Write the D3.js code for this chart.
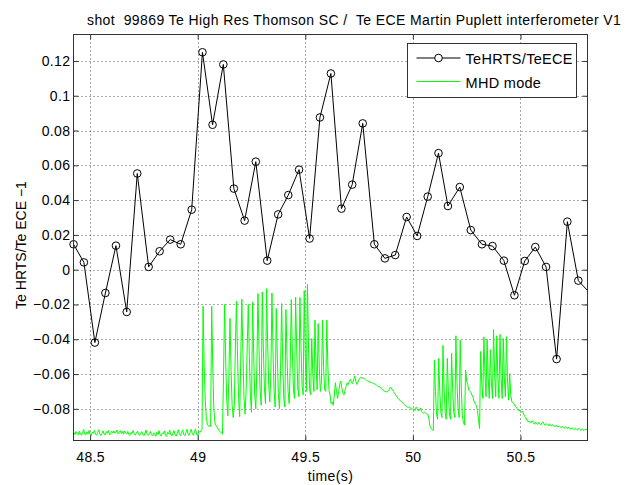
<!DOCTYPE html>
<html>
<head lang="en">
    <meta charset="UTF-8">
    <title>shot 99869</title>
    <script src="https://cdn.jsdelivr.net/npm/d3@7/dist/d3.min.js" charset="UTF-8"></script>
    <style>
        body{margin:0;background:#fff;}
        svg text{font-family:"Liberation Sans",Arial,Helvetica,sans-serif;}
    </style>
</head>
<body>
<script>
    // TeHRTS/TeECE - 1, one point per Thomson time slice
    var hrtsTime=[48.423,48.471,48.522,48.571,48.620,48.670,48.719,48.772,48.823,48.872,
                  48.921,48.972,49.022,49.069,49.119,49.168,49.218,49.270,49.323,49.374,
                  49.421,49.471,49.520,49.568,49.619,49.668,49.718,49.767,49.821,49.870,
                  49.918,49.971,50.020,50.069,50.119,50.163,50.218,50.269,50.321,50.370,
                  50.423,50.472,50.520,50.569,50.619,50.668,50.718,50.769,50.819];
    var hrtsRatio=[0.0146,0.0042,-0.0419,-0.0134,0.0138,-0.0243,0.0553,0.0016,0.0106,0.0173,
                   0.0146,0.0345,0.1250,0.0833,0.1180,0.0466,0.0282,0.0621,0.0052,0.0318,
                   0.0429,0.0575,0.0179,0.0875,0.1128,0.0351,0.0489,0.0841,0.0146,0.0065,
                   0.0084,0.0303,0.0194,0.0420,0.0670,0.0366,0.0475,0.0228,0.0146,0.0136,
                   0.0052,-0.0147,0.0050,0.0130,0.0016,-0.0514,0.0276,-0.0063,-0.0130];

    // MHD mode signal, sampled every 5 ms from 48.42 s
    var mhdStart=48.42;
    var mhdStep=0.005;
    var mhdSignal=[
        -0.0940,-0.0935,-0.0948,-0.0930,-0.0945,-0.0950,-0.0928,-0.0946,-0.0952,-0.0938,
        -0.0918,-0.0945,-0.0950,-0.0932,-0.0944,-0.0925,-0.0948,-0.0955,-0.0935,-0.0942,
        -0.0922,-0.0947,-0.0951,-0.0936,-0.0920,-0.0944,-0.0953,-0.0940,-0.0926,-0.0946,
        -0.0950,-0.0930,-0.0941,-0.0924,-0.0948,-0.0945,-0.0928,-0.0938,-0.0926,-0.0940,
        -0.0935,-0.0922,-0.0944,-0.0937,-0.0925,-0.0942,-0.0930,-0.0946,-0.0928,-0.0938,
        -0.0945,-0.0930,-0.0948,-0.0952,-0.0936,-0.0940,-0.0924,-0.0947,-0.0950,-0.0938,
        -0.0928,-0.0946,-0.0953,-0.0942,-0.0931,-0.0948,-0.0955,-0.0940,-0.0922,-0.0947,
        -0.0952,-0.0944,-0.0930,-0.0949,-0.0956,-0.0938,-0.0946,-0.0958,-0.0935,-0.0948,
        -0.0925,-0.0950,-0.0956,-0.0940,-0.0944,-0.0927,-0.0952,-0.0958,-0.0936,-0.0945,
        -0.0922,-0.0948,-0.0955,-0.0941,-0.0925,-0.0950,-0.0957,-0.0939,-0.0920,-0.0946,
        -0.0954,-0.0938,-0.0921,-0.0947,-0.0955,-0.0936,-0.0918,-0.0945,-0.0953,-0.0934,
        -0.0917,-0.0944,-0.0952,-0.0930,-0.0915,-0.0946,-0.0953,-0.0928,-0.0935,-0.0925,
        -0.0920,-0.0210,-0.0550,-0.0750,-0.0850,-0.0890,-0.0900,-0.0895,-0.0902,-0.0210,
        -0.0560,-0.0800,-0.0880,-0.0895,-0.0905,-0.0915,-0.0925,-0.0932,-0.0940,-0.0945,
        -0.0600,-0.0200,-0.0520,-0.0750,-0.0840,-0.0600,-0.0280,-0.0580,-0.0780,-0.0850,
        -0.0780,-0.0450,-0.0180,-0.0500,-0.0740,-0.0845,-0.0520,-0.0170,-0.0480,-0.0730,
        -0.0830,-0.0700,-0.0450,-0.0200,-0.0500,-0.0730,-0.0820,-0.0185,-0.0480,-0.0720,
        -0.0800,-0.0550,-0.0137,-0.0460,-0.0700,-0.0780,-0.0128,-0.0450,-0.0680,-0.0770,
        -0.0109,-0.0420,-0.0660,-0.0760,-0.0600,-0.0134,-0.0480,-0.0700,-0.0790,-0.0223,
        -0.0500,-0.0720,-0.0800,-0.0580,-0.0195,-0.0520,-0.0740,-0.0790,-0.0229,-0.0500,
        -0.0700,-0.0770,-0.0550,-0.0172,-0.0480,-0.0690,-0.0740,-0.0157,-0.0450,-0.0680,
        -0.0730,-0.0160,-0.0440,-0.0670,-0.0720,-0.0120,-0.0500,-0.0700,-0.0084,-0.0450,
        -0.0690,-0.0720,-0.0396,-0.0600,-0.0700,-0.0290,-0.0550,-0.0690,-0.0310,-0.0560,
        -0.0700,-0.0650,-0.0290,-0.0560,-0.0690,-0.0700,-0.0290,-0.0560,-0.0690,-0.0720,
        -0.0770,-0.0760,-0.0780,-0.0720,-0.0650,-0.0700,-0.0740,-0.0700,-0.0660,-0.0640,
        -0.0680,-0.0710,-0.0720,-0.0690,-0.0670,-0.0650,-0.0660,-0.0640,-0.0630,-0.0650,
        -0.0655,-0.0630,-0.0610,-0.0640,-0.0660,-0.0645,-0.0630,-0.0622,-0.0618,-0.0625,
        -0.0620,-0.0628,-0.0632,-0.0638,-0.0640,-0.0645,-0.0642,-0.0650,-0.0648,-0.0655,
        -0.0655,-0.0660,-0.0663,-0.0668,-0.0672,-0.0670,-0.0680,-0.0685,-0.0690,-0.0695,
        -0.0700,-0.0702,-0.0703,-0.0698,-0.0690,-0.0676,-0.0680,-0.0692,-0.0700,-0.0712,
        -0.0720,-0.0730,-0.0738,-0.0745,-0.0750,-0.0757,-0.0760,-0.0768,-0.0775,-0.0780,
        -0.0785,-0.0790,-0.0792,-0.0788,-0.0798,-0.0802,-0.0800,-0.0805,-0.0810,-0.0790,
        -0.0800,-0.0812,-0.0804,-0.0795,-0.0815,-0.0822,-0.0824,-0.0818,-0.0826,-0.0830,
        -0.0832,-0.0860,-0.0904,-0.0915,-0.0920,-0.0925,-0.0520,-0.0700,-0.0830,-0.0860,
        -0.0510,-0.0700,-0.0820,-0.0850,-0.0435,-0.0680,-0.0820,-0.0860,-0.0510,-0.0700,
        -0.0830,-0.0860,-0.0480,-0.0690,-0.0820,-0.0850,-0.0380,-0.0650,-0.0800,-0.0850,
        -0.0405,-0.0680,-0.0840,-0.0880,-0.0894,-0.0578,-0.0640,-0.0660,-0.0693,-0.0700,
        -0.0705,-0.0721,-0.0735,-0.0760,-0.0770,-0.0780,-0.0810,-0.0860,-0.0913,-0.0470,
        -0.0650,-0.0740,-0.0386,-0.0600,-0.0730,-0.0400,-0.0620,-0.0740,-0.0460,-0.0650,
        -0.0740,-0.0344,-0.0600,-0.0730,-0.0380,-0.0620,-0.0740,-0.0372,-0.0620,-0.0740,
        -0.0395,-0.0620,-0.0730,-0.0385,-0.0640,-0.0750,-0.0597,-0.0720,-0.0760,-0.0765,
        -0.0770,-0.0785,-0.0790,-0.0800,-0.0810,-0.0805,-0.0820,-0.0818,-0.0815,-0.0830,
        -0.0845,-0.0850,-0.0865,-0.0875,-0.0870,-0.0880,-0.0875,-0.0868,-0.0880,-0.0888,
        -0.0875,-0.0885,-0.0890,-0.0878,-0.0886,-0.0892,-0.0880,-0.0875,-0.0888,-0.0895,
        -0.0885,-0.0890,-0.0898,-0.0886,-0.0893,-0.0900,-0.0890,-0.0896,-0.0903,-0.0894,
        -0.0900,-0.0906,-0.0898,-0.0904,-0.0910,-0.0900,-0.0907,-0.0912,-0.0902,-0.0910,
        -0.0915,-0.0905,-0.0912,-0.0918,-0.0908,-0.0914,-0.0920,-0.0910,-0.0916,-0.0922,
        -0.0912,-0.0918,-0.0924,-0.0914,-0.0920,-0.0925,-0.0918,-0.0922,-0.0915];

    var xTicks=[48.5,49,49.5,50,50.5];
    var xTickLabels=["48.5","49","49.5","50","50.5"];
    var yTicks=[-0.08,-0.06,-0.04,-0.02,0,0.02,0.04,0.06,0.08,0.1,0.12];
    var yTickLabels=["\u22120.08","\u22120.06","\u22120.04","\u22120.02","0","0.02","0.04","0.06","0.08","0.1","0.12"];

    var L=73.5, R=587.5, T=34.5, B=440.5;
    var fontSize="14px";

    var _svg=d3.select("body")
            .append("svg")
            .attr("width",630)
            .attr("height",485);

    var x=d3.scaleLinear().domain([48.4227,50.8116]).range([L,R]);
    var y=d3.scaleLinear().domain([-0.0982,0.1352]).range([B,T]);

    _svg.append("defs").append("clipPath")
            .attr("id","plotclip")
            .append("rect")
            .attr("x",L).attr("y",T)
            .attr("width",R-L).attr("height",B-T);

    // dotted grid
    var _grid=_svg.append("g")
            .attr("stroke","#555")
            .attr("stroke-width",1)
            .attr("stroke-dasharray","1,3");
    _grid.selectAll("line.gx")
            .data(xTicks)
            .enter()
            .append("line")
            .attr("x1",function(d){return Math.round(x(d))+0.5;})
            .attr("x2",function(d){return Math.round(x(d))+0.5;})
            .attr("y1",T).attr("y2",B);
    _grid.selectAll("line.gy")
            .data(yTicks)
            .enter()
            .append("line")
            .attr("y1",function(d){return Math.round(y(d))+0.5;})
            .attr("y2",function(d){return Math.round(y(d))+0.5;})
            .attr("x1",L).attr("x2",R);

    // MHD mode trace
    var mhdLine=d3.line()
            .x(function(d,i){return x(mhdStart+i*mhdStep);})
            .y(function(d){return y(d);});
    _svg.append("path")
            .datum(mhdSignal)
            .attr("clip-path","url(#plotclip)")
            .attr("d",mhdLine)
            .attr("fill","none")
            .attr("stroke","#00ff00")
            .attr("stroke-width",1);

    // TeHRTS/TeECE line and markers
    var hrtsLine=d3.line()
            .x(function(d,i){return x(hrtsTime[i]);})
            .y(function(d){return y(d);});
    _svg.append("path")
            .datum(hrtsRatio)
            .attr("clip-path","url(#plotclip)")
            .attr("d",hrtsLine)
            .attr("fill","none")
            .attr("stroke","#000")
            .attr("stroke-width",1);
    _svg.append("g")
            .selectAll("circle")
            .data(hrtsRatio.filter(function(d,i){return hrtsTime[i]<=50.8116;}))
            .enter()
            .append("circle")
            .attr("cx",function(d,i){return x(hrtsTime[i]);})
            .attr("cy",function(d){return y(d);})
            .attr("r",3.8)
            .attr("fill","none")
            .attr("stroke","#000")
            .attr("stroke-width",1);

    // axes, ticks pointing inward on all four sides
    function styleAxis(g){
        g.select(".domain").remove();
        g.selectAll("line").attr("stroke","#333");
        g.selectAll("text")
                .attr("fill","#000")
                .style("font-size",fontSize)
                .style("letter-spacing","0.4px");
    }
    _svg.append("g")
            .attr("transform","translate(0,"+B+")")
            .call(d3.axisBottom(x).tickValues(xTicks)
                    .tickFormat(function(d,i){return xTickLabels[i];})
                    .tickSize(-5).tickPadding(12))
            .call(styleAxis);
    _svg.append("g")
            .attr("transform","translate(0,"+T+")")
            .call(d3.axisTop(x).tickValues(xTicks).tickFormat("").tickSize(-5))
            .call(styleAxis);
    _svg.append("g")
            .attr("transform","translate("+L+",0)")
            .call(d3.axisLeft(y).tickValues(yTicks)
                    .tickFormat(function(d,i){return yTickLabels[i];})
                    .tickSize(-5).tickPadding(3))
            .call(styleAxis);
    _svg.append("g")
            .attr("transform","translate("+R+",0)")
            .call(d3.axisRight(y).tickValues(yTicks).tickFormat("").tickSize(-5))
            .call(styleAxis);

    _svg.append("rect")
            .attr("x",L).attr("y",T)
            .attr("width",R-L).attr("height",B-T)
            .attr("fill","none")
            .attr("stroke","#333")
            .attr("stroke-width",1);

    // labels
    _svg.append("text")
            .attr("x",87).attr("y",25)
            .style("font-size",fontSize)
            .style("letter-spacing","0.4px")
            .style("white-space","pre")
            .text("shot  99869 Te High Res Thomson SC /  Te ECE Martin Puplett interferometer V1");
    _svg.append("text")
            .attr("x",(L+R)/2).attr("y",481)
            .attr("text-anchor","middle")
            .style("font-size",fontSize)
            .style("letter-spacing","0.4px")
            .text("time(s)");
    _svg.append("text")
            .attr("transform","translate(26,245) rotate(-90)")
            .attr("text-anchor","middle")
            .style("font-size",fontSize)
            .text("Te HRTS/Te ECE \u22121");

    // legend
    var _leg=_svg.append("g").attr("transform","translate(407.5,43.5)");
    _leg.append("rect")
            .attr("width",169).attr("height",54)
            .attr("fill","#fff")
            .attr("stroke","#333")
            .attr("stroke-width",1);
    _leg.append("line")
            .attr("x1",9).attr("x2",53).attr("y1",14.5).attr("y2",14.5)
            .attr("stroke","#555").attr("stroke-width",1.5);
    _leg.append("circle")
            .attr("cx",31).attr("cy",14.5).attr("r",3.8)
            .attr("fill","#fff").attr("stroke","#000");
    _leg.append("line")
            .attr("x1",9).attr("x2",53).attr("y1",38).attr("y2",38)
            .attr("stroke","#00ff00").attr("stroke-width",1);
    _leg.selectAll("text")
            .data(["TeHRTS/TeECE","MHD mode"])
            .enter()
            .append("text")
            .attr("x",58)
            .attr("y",function(d,i){return i===0?20:44.5;})
            .style("font-size","14.5px")
            .style("letter-spacing","0.3px")
            .text(function(d){return d;});
</script>
</body>
</html>
